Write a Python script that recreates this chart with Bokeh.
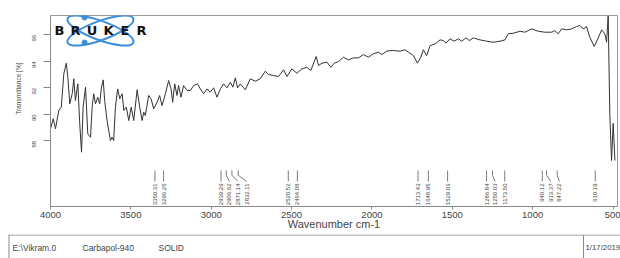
import math
from bokeh.plotting import figure
from bokeh.models import Range1d, FixedTicker, Title
from bokeh.layouts import column
from bokeh.embed import file_html
from bokeh.resources import INLINE
from bokeh.core.properties import value

# ---------------- data ----------------
wavenumber = [4000, 3983, 3969, 3948, 3933, 3917, 3902, 3892, 3880, 3865,
              3855, 3845, 3830, 3818, 3807, 3797, 3782, 3768, 3751, 3741,
              3731, 3720, 3706, 3694, 3683, 3672, 3663, 3648, 3627, 3617,
              3607, 3596, 3582, 3569, 3554, 3544, 3528, 3513, 3498, 3482,
              3461, 3445, 3430, 3420, 3410, 3389, 3374, 3358, 3337, 3321,
              3306, 3285, 3265, 3250, 3240, 3227, 3213, 3203, 3188, 3172,
              3150, 3130, 3109, 3085, 3068, 3047, 3026, 3006, 2985, 2964,
              2943, 2923, 2902, 2881, 2865, 2850, 2836, 2819, 2788, 2757,
              2726, 2695, 2664, 2643, 2612, 2581, 2550, 2529, 2498, 2467,
              2436, 2405, 2380, 2347, 2332, 2311, 2280, 2255, 2235, 2208,
              2177, 2146, 2115, 2084, 2053, 2022, 1991, 1960, 1938, 1907,
              1866, 1825, 1794, 1773, 1742, 1717, 1696, 1680, 1659, 1638,
              1607, 1576, 1556, 1539, 1514, 1489, 1462, 1441, 1415, 1394,
              1369, 1328, 1286, 1245, 1203, 1172, 1152, 1121, 1079, 1048,
              1006, 965, 924, 882, 862, 841, 820, 789, 758, 727,
              708, 683, 665, 644, 617, 594, 571, 551, 540, 530,
              520, 509, 499, 488]

transmittance = [88.91, 89.66, 88.91, 90.29, 90.54, 93.06, 93.86, 92.80, 90.79, 91.55,
                 92.68, 91.04, 92.30, 89.28, 87.14, 90.54, 92.05, 88.53, 88.27, 90.54,
                 91.55, 90.79, 91.29, 90.79, 92.05, 92.60, 91.04, 89.53, 88.02, 88.27,
                 88.02, 90.54, 91.92, 91.17, 91.55, 90.29, 90.54, 89.53, 90.54, 89.53,
                 91.85, 90.54, 89.53, 90.16, 89.91, 91.42, 91.17, 90.42, 90.91, 91.42,
                 90.66, 91.55, 92.55, 91.92, 90.91, 92.30, 91.42, 92.17, 91.29, 92.17,
                 91.80, 91.80, 92.17, 92.30, 91.92, 91.55, 91.92, 91.67, 92.00, 91.29,
                 91.92, 92.30, 92.00, 92.42, 92.05, 92.75, 92.00, 92.30, 91.85, 92.68,
                 92.50, 92.68, 93.25, 93.00, 92.93, 92.85, 93.36, 92.85, 93.43, 93.10,
                 93.43, 93.55, 93.31, 94.36, 93.68, 93.86, 93.93, 93.55, 93.86, 93.98,
                 94.31, 94.11, 94.26, 94.26, 94.51, 94.31, 94.57, 94.69, 94.51, 94.78,
                 94.82, 94.76, 94.87, 94.69, 94.44, 93.86, 94.31, 94.87, 94.44, 95.19,
                 95.32, 95.62, 95.57, 95.37, 95.70, 95.52, 95.70, 95.52, 95.77, 95.57,
                 95.77, 95.62, 95.52, 95.44, 95.52, 95.62, 96.08, 96.12, 96.27, 96.20,
                 96.45, 96.27, 96.20, 96.20, 96.32, 96.08, 96.45, 96.38, 96.45, 96.63,
                 96.70, 96.45, 96.63, 95.82, 95.12, 95.70, 96.38, 96.08, 95.44, 97.42,
                 90.06, 86.51, 89.31, 86.51]

peak_positions = [3350.31, 3296.25, 2939.29, 2906.62, 2871.14, 2832.11, 2520.52, 2464.08,
                  1713.43, 1648.95, 1529.03, 1286.84, 1250.03, 1173.50, 940.12, 913.37,
                  847.22, 610.19]

x_ticks = [4000, 3500, 3000, 2500, 2000, 1500, 1000, 500]
y_ticks = [88, 90, 92, 94, 96]

footer_fields = ["E:\\Vikram.0", "Carbapol-940", "SOLID"]
footer_date = "1/17/2019"

FONT = "Liberation Sans"
GREY = "#888888"
TXT = "#444444"

# ---------------- main plot ----------------
p = figure(width=620, height=234, x_range=Range1d(4000, 472), y_range=Range1d(83.04, 97.46),
           output_backend="svg", toolbar_location=None,
           min_border_left=50, min_border_right=3, min_border_top=15, min_border_bottom=28)
p.frame_align = False
p.xgrid.visible = False
p.ygrid.visible = False
p.outline_line_color = "#9a9a9a"
p.outline_line_width = 1

p.xaxis.ticker = FixedTicker(ticks=x_ticks)
p.yaxis.ticker = FixedTicker(ticks=y_ticks)
for ax in (p.xaxis, p.yaxis):
    ax.axis_line_color = GREY
    ax.major_tick_line_color = GREY
    ax.minor_tick_line_color = None
    ax.major_tick_in = 0
    ax.major_label_text_color = TXT
    ax.major_label_text_font = FONT
p.xaxis.major_tick_out = 3
p.xaxis.major_label_standoff = 2
p.xaxis.major_label_text_font_size = "9.5px"
p.xaxis.axis_label = "Wavenumber cm-1"
p.xaxis.axis_label_standoff = -3
p.xaxis.axis_label_text_font_size = "11px"
p.xaxis.axis_label_text_font_style = "normal"
p.xaxis.axis_label_text_color = TXT
p.xaxis.axis_label_text_font = FONT

p.yaxis.major_tick_out = 7
p.yaxis.major_label_standoff = 9
p.yaxis.major_label_text_font_size = "6px"
p.yaxis.major_label_orientation = math.pi / 2

p.add_layout(Title(text="Transmittance [%]", align="right", offset=47, standoff=11,
                   text_font_size="6.5px", text_font_style="normal",
                   text_color=TXT, text_font=FONT), "left")

# spectrum
p.line(wavenumber, transmittance, line_color="#333333", line_width=1, line_join="round")

# peak markers with de-overlapped labels
min_gap = 53.0
label_pos = []
for i, pk in enumerate(peak_positions):
    if i == 0:
        label_pos.append(pk)
    else:
        label_pos.append(min(pk, label_pos[-1] - min_gap))
top_y, mid_y, bot_y, lab_y = 85.76, 85.40, 84.93, 84.78
xs = [[pk, pk, lp] for pk, lp in zip(peak_positions, label_pos)]
ys = [[top_y, mid_y, bot_y] for _ in peak_positions]
p.multi_line(xs, ys, line_color="#555555", line_width=0.8)
p.text(x=label_pos, y=[lab_y] * len(label_pos), text=[f"{v:.2f}" for v in peak_positions],
       angle=math.pi / 2, text_align="right", text_baseline="middle",
       text_font_size="6px", text_color=TXT, text_font=value(FONT))

# Bruker logo (decoration)
logo_x, logo_y = 3689, 96.32
p.ellipse(x=[logo_x, logo_x], y=[logo_y, logo_y], width=[70, 70], height=[19, 19],
          angle=[0.35, -0.35], width_units="screen", height_units="screen",
          fill_color=None, line_color="#3b8fdc", line_width=2)
p.scatter(x=[3788, 3788], y=[97.31, 95.42], size=5, color="#3b8fdc")
letters = list("BRUKER")
p.text(x=[logo_x] * 6, y=[logo_y] * 6, text=letters,
       x_offset=[-41, -25, -8.5, 8, 24.5, 41],
       text_align="center", text_baseline="middle", text_font_size="13px",
       text_font_style="bold", text_color="#111111", text_font=value("DejaVu Sans"))

# ---------------- footer ----------------
f = figure(width=620, height=24, x_range=Range1d(0, 620), y_range=Range1d(0, 24),
           output_backend="svg", toolbar_location=None, min_border=0,
           x_axis_type=None, y_axis_type=None)
f.frame_align = False
f.xgrid.visible = False
f.ygrid.visible = False
f.outline_line_color = None
f.segment(x0=[8, 8.5, 583], y0=[23.5, 0, 0], x1=[620, 8.5, 583], y1=[23.5, 23.5, 23.5],
          line_color=GREY, line_width=1)
f.text(x=[12, 82, 158], y=[11] * 3, text=footer_fields,
       text_align="left", text_baseline="middle", text_font_size="8.5px",
       text_color=TXT, text_font=value(FONT))
f.text(x=[585], y=[11], text=[footer_date],
       text_align="left", text_baseline="middle", text_font_size="7.8px",
       text_color=TXT, text_font=value(FONT))

layout = column(p, f, spacing=0)
open("out.html", "w").write(file_html(layout, INLINE))
